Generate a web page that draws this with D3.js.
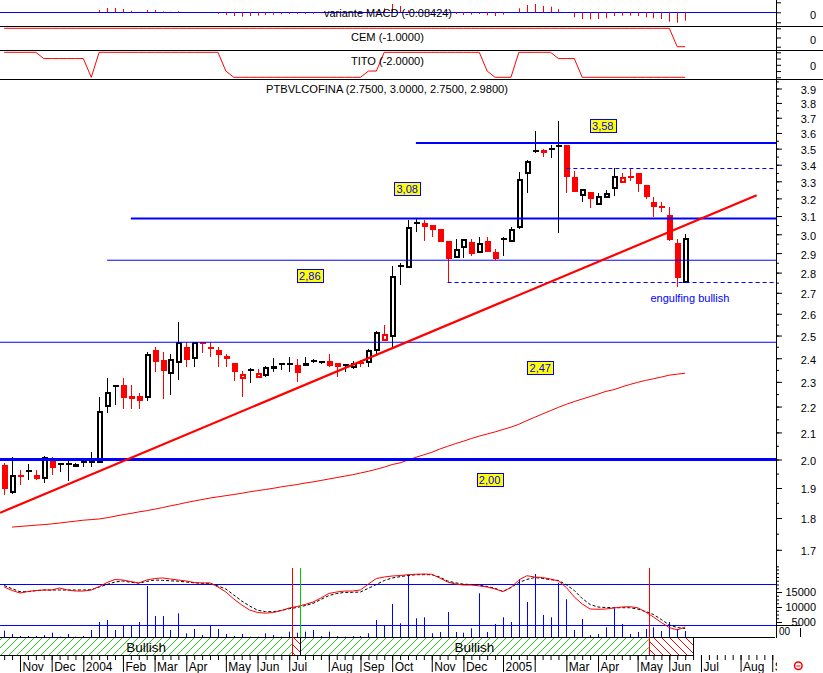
<!DOCTYPE html>
<html><head><meta charset="utf-8">
<script src="https://cdn.jsdelivr.net/npm/d3@7/dist/d3.min.js"></script>
<style>
html,body{margin:0;padding:0;background:#fff;overflow:hidden}
svg{display:block}
text{font-family:"Liberation Sans",Arial,sans-serif}
</style></head><body>
<svg id="chart" width="823" height="673"></svg>
<script>
// ---------------- DATA ----------------
const startDate = new Date(2003, 9, 24); // first weekly bar (Friday)
const opens = [1.979,1.882,1.946,1.955,1.945,1.931,1.995,1.983,1.984,1.973,
1.990,1.989,1.987,2.200,2.278,2.286,2.243,2.243,2.236,2.436,
2.392,2.332,2.378,2.450,2.395,2.473,2.446,2.436,2.408,2.378,
2.311,2.347,2.315,2.324,2.356,2.376,2.373,2.370,2.367,2.389,
2.379,2.386,2.378,2.370,2.358,2.385,2.378,2.433,2.476,2.492,
2.831,2.822,3.069,3.060,3.051,3.029,2.964,2.873,2.926,2.957,
2.899,2.963,2.906,2.971,2.957,3.036,3.346,3.477,3.491,3.494,
3.508,3.523,3.328,3.214,3.236,3.161,3.201,3.255,3.288,3.326,
3.348,3.278,3.180,3.151,3.106,2.955,2.750];
const highs = [1.989,2.008,1.963,1.985,1.963,2.011,2.008,1.986,1.999,1.988,
1.999,2.027,2.239,2.316,2.285,2.316,2.286,2.254,2.429,2.451,
2.429,2.419,2.562,2.473,2.473,2.473,2.473,2.448,2.419,2.378,
2.347,2.360,2.356,2.367,2.400,2.378,2.404,2.395,2.404,2.395,
2.390,2.419,2.378,2.371,2.388,2.392,2.441,2.521,2.549,2.835,
2.847,3.078,3.082,3.078,3.051,3.029,2.964,2.973,2.976,2.973,
2.984,2.984,2.920,2.984,3.042,3.358,3.429,3.615,3.497,3.523,
3.678,3.523,3.364,3.255,3.236,3.230,3.249,3.378,3.348,3.378,
3.348,3.278,3.208,3.177,3.151,2.973,3.000];
const lows = [1.877,1.880,1.911,1.926,1.926,1.917,1.946,1.956,1.925,1.973,
1.975,1.975,1.987,2.176,2.206,2.192,2.192,2.192,2.224,2.343,
2.232,2.247,2.308,2.364,2.364,2.422,2.407,2.364,2.364,2.304,
2.240,2.297,2.314,2.321,2.343,2.350,2.343,2.301,2.367,2.381,
2.377,2.361,2.319,2.343,2.353,2.364,2.364,2.410,2.476,2.451,
2.739,2.822,3.014,2.966,2.987,2.961,2.752,2.873,2.873,2.887,
2.899,2.907,2.865,2.887,2.957,3.029,3.233,3.471,3.450,3.440,
3.009,3.230,3.239,3.181,3.147,3.161,3.201,3.216,3.288,3.304,
3.239,3.195,3.093,3.121,2.966,2.727,2.750];
const closes = [1.896,1.946,1.940,1.962,1.931,2.008,1.971,1.985,1.985,1.985,
1.992,1.996,2.182,2.258,2.285,2.236,2.231,2.224,2.417,2.385,
2.347,2.395,2.473,2.392,2.473,2.462,2.444,2.413,2.395,2.341,
2.332,2.356,2.339,2.364,2.368,2.371,2.374,2.336,2.378,2.386,
2.387,2.365,2.364,2.371,2.381,2.378,2.435,2.515,2.506,2.781,
2.834,3.038,3.056,3.042,3.023,2.961,2.870,2.920,2.973,2.895,
2.955,2.907,2.870,2.975,3.027,3.316,3.423,3.491,3.475,3.496,
3.523,3.328,3.239,3.255,3.195,3.212,3.230,3.332,3.324,3.323,
3.282,3.206,3.153,3.148,2.970,2.775,2.980];
const volumes = [2100,1000,330,330,330,670,1430,150,1000,100,
330,2330,5000,5670,2330,3770,3770,5000,17000,7000,
7000,2330,7900,1230,2670,670,3770,2670,1000,330,
1000,100,100,1230,670,100,1770,1430,1770,2330,
330,1770,330,100,330,330,1230,5670,3770,11000,
4570,20330,6230,6570,1230,1670,8330,1670,1430,2900,
14570,1670,4330,6570,5000,19330,11670,21000,7330,6570,
18100,12570,2330,6000,670,1000,3230,9570,4330,1000,
1670,2670,3230,2000,5000,2670,2000];
const movingAvg = [null,1.771,1.773,1.775,1.777,1.779,1.781,1.784,1.787,1.790,
1.793,1.795,1.797,1.801,1.806,1.811,1.815,1.820,1.824,1.829,
1.834,1.840,1.845,1.851,1.856,1.861,1.866,1.870,1.874,1.878,
1.882,1.887,1.891,1.895,1.899,1.904,1.908,1.912,1.917,1.921,
1.926,1.931,1.936,1.941,1.946,1.952,1.958,1.965,1.973,1.982,
1.988,1.998,2.008,2.017,2.026,2.038,2.048,2.058,2.067,2.077,
2.086,2.094,2.102,2.111,2.120,2.131,2.145,2.158,2.171,2.184,
2.197,2.209,2.220,2.230,2.240,2.250,2.261,2.268,2.279,2.289,
2.298,2.306,2.313,2.320,2.328,2.332,2.336];
const oscFast = [76.1,71.0,67.3,69.5,71.0,71.7,71.7,74.6,71.7,70.2,
70.2,71.7,76.8,82.7,87.1,86.3,84.1,82.0,86.3,88.5,
89.3,87.8,86.3,84.9,82.7,82.0,82.0,76.1,68.8,58.5,
49.8,42.4,38.8,37.8,38.8,41.7,45.4,47.6,50.5,54.1,
60.0,66.6,68.8,70.2,70.2,71.7,80.5,88.5,90.7,92.2,
92.9,94.1,94.8,95.1,94.7,89.3,83.4,80.5,79.0,79.0,
77.6,76.1,73.2,69.5,75.4,86.3,92.6,90.7,90.0,87.8,
84.9,75.4,61.5,51.2,43.9,43.5,43.9,45.4,46.8,47.3,
45.8,39.5,32.2,24.1,16.8,13.2,17.6];
const oscSlow = [78.3,73.6,69.2,69.2,70.7,71.7,71.7,71.7,71.7,71.7,
71.7,72.1,76.1,79.8,83.4,84.9,83.0,81.7,84.3,86.3,
85.8,85.2,84.6,83.4,82.2,81.5,81.5,77.6,73.2,64.4,
55.6,48.3,42.1,40.0,40.0,41.7,44.3,46.2,48.9,52.1,
57.8,63.5,66.6,68.2,68.3,68.8,74.2,79.8,85.6,89.3,
91.2,92.9,94.1,94.1,94.1,90.7,84.9,82.2,80.2,79.8,
79.0,76.8,74.2,69.5,75.4,82.7,87.1,90.0,88.5,86.8,
85.6,79.3,71.0,59.3,50.5,46.8,46.1,45.8,45.8,45.8,
43.9,40.2,35.9,28.5,20.5,16.8,15.4];
const oscLevels = [80, 20];
const macdHist = [0,0,0,0,0,0,0,0,0,0,
0,0,0.023,0.043,0.043,0.033,0.016,0.005,0.023,0.023,
0.008,0.005,0.010,0.002,0.002,0.002,0,-0.017,-0.027,-0.037,
-0.044,-0.037,-0.034,-0.027,-0.024,-0.020,-0.017,-0.017,-0.017,-0.014,
-0.010,-0.008,-0.006,-0.005,-0.004,-0.003,0,0.010,0.040,0.083,
0.063,0.020,0.010,0.005,0,-0.005,-0.012,-0.017,-0.027,-0.024,
-0.017,-0.030,-0.037,-0.024,-0.004,0.040,0.073,0.083,0.063,0.056,
0.030,-0.005,-0.050,-0.067,-0.070,-0.067,-0.060,-0.037,-0.034,-0.034,
-0.037,-0.050,-0.060,-0.067,-0.094,-0.104,-0.084];
const cemValues = [1,1,1,1,1,1,1,1,1,1,
1,1,1,1,1,1,1,1,1,1,
1,1,1,1,1,1,1,1,1,1,
1,1,1,1,1,1,1,1,1,1,
1,1,1,1,1,1,1,1,1,1,
1,1,1,1,1,1,1,1,1,1,
1,1,1,1,1,1,1,1,1,1,
1,1,1,1,1,1,1,1,1,1,
1,1,1,1,1,-1,-1];
const titoValues = [2,2,2,2,2,1,1,1,1,1,
1,-2,2,2,2,2,2,2,2,2,
2,2,2,2,2,2,2,2,-1,-2,
-2,-2,-2,-2,-2,-2,-2,-2,-2,-2,
-2,-2,-2,-2,-2,-2,-1,-1,2,2,
2,2,2,2,2,2,2,2,2,2,
2,-1,-2,-2,-2,2,2,2,2,2,
1,1,1,-2,-2,-2,-2,-2,-2,-2,
-2,-2,-2,-2,-2,-2,-2];
const monthLabels = ["Nov","Dec","2004","Feb","Mar","Apr","May","Jun","Jul","Aug","Sep","Oct",
"Nov","Dec","2005","","Mar","Apr","May","Jun","Jul","Aug","Sep"];
const priceTicks = [1.7,1.8,1.9,2.0,2.1,2.2,2.3,2.4,2.5,2.6,2.7,2.8,2.9,3.0,3.1,3.2,3.3,3.4,3.5,3.6,3.7,3.8,3.9];
const volumeTicks = [5000,10000,15000];
const levelPrices = [3.535, 3.086, 2.863, 2.470, 2.000];
const levelStartWeeks = [52, 16, 13, null, null];
const dashedPrices = [3.378, 2.752];
const dashedStartWeeks = [71, 56];
const labelTexts = ["3,58","3,08","2,86","2,47","2,00"];
const labelWeeks = [75.6, 50.9, 38.6, 67.7, 61.3];
const labelPrices = [3.648, 3.256, 2.787, 2.361, 1.928];
const trendWeeks = [-0.525, 95.03];
const trendPrices = [1.817, 3.218];
const signalWeeks = [36, 37, 81];
const signalTypes = ["sell", "buy", "sell"];
const lastWeek = 86;
const noteText = "engulfing bullish", noteWeek = 86.6, notePrice = 2.675;
const titleText = "PTBVLCOFINA (2.7500, 3.0000, 2.7500, 2.9800)";

// ---------------- SETUP ----------------
const AX = 777;
const svg = d3.select("#chart");
const defs = svg.append("defs");
function clip(id, x0, y0, w, h){ defs.append("clipPath").attr("id", id).append("rect").attr("x",x0).attr("y",y0).attr("width",w).attr("height",h); }
clip("cMacd", 0, 0, AX, 26);
clip("cCem", 0, 27, AX, 23.5);
clip("cTito", 0, 51, AX, 28.5);
clip("cMain", 0, 80, AX, 487);
clip("cLow", 0, 565, AX, 72.5);
clip("cXAxis", 0, 640, AX, 33);

const pg = defs.append("pattern").attr("id","hatchG").attr("patternUnits","userSpaceOnUse").attr("width",8).attr("height",8);
pg.append("path").attr("d","M0,8 L8,0 M-2,2 L2,-2 M6,10 L10,6").attr("stroke","#22cc22").attr("stroke-width",1);
const pr = defs.append("pattern").attr("id","hatchR").attr("patternUnits","userSpaceOnUse").attr("width",8).attr("height",8);
pr.append("path").attr("d","M0,0 L8,8 M-2,6 L2,10 M6,-2 L10,2").attr("stroke","#ff0000").attr("stroke-width",1);

const x = d3.scaleLinear().domain([-0.525, 97.6]).range([0, AX]);
const yPrice = d3.scaleLog().domain([1.7, 3.9]).range([549.8, 88.5]);
const yMacd = d3.scaleLinear().domain([-0.1, 0.1]).range([22.3, 2.3]);
const yCem = d3.scaleLinear().domain([-1, 1]).range([46.7, 28.3]);
const yTito = d3.scaleLinear().domain([-2, 2]).range([77.3, 52.3]);
const yOsc = d3.scaleLinear().domain([0, 100]).range([639, 570.67]);
const yVol = d3.scaleLinear().domain([0, 5000]).range([637, 622]);
const px = i => Math.round(x(i));
const RED = "#ff0000", BLUE = "#0000ff";
const idx = d3.range(opens.length);

svg.append("rect").attr("width",823).attr("height",673).attr("fill","#fff");

// ---------------- TOP PANELS ----------------
const gM = svg.append("g").attr("clip-path","url(#cMacd)");
gM.append("line").attr("x1",0).attr("x2",AX).attr("y1",Math.round(yMacd(0))+0.5).attr("y2",Math.round(yMacd(0))+0.5).attr("stroke",BLUE);
gM.selectAll("line.h").data(idx.filter(i => macdHist[i] !== 0)).join("line").attr("class","h")
  .attr("x1", i => px(i)+0.5).attr("x2", i => px(i)+0.5)
  .attr("y1", yMacd(0)).attr("y2", i => yMacd(macdHist[i])).attr("stroke", RED);
svg.append("text").attr("x",388).attr("y",16.5).attr("text-anchor","middle").attr("font-size",11)
  .attr("textLength",128).attr("lengthAdjust","spacingAndGlyphs").text("variante MACD (-0.08424)");

const lineGen = (ys, arr) => d3.line().defined(i => arr[i] != null).x(i => x(i)).y(i => ys(arr[i]));
svg.append("g").attr("clip-path","url(#cCem)").append("path").datum(idx)
  .attr("d", lineGen(yCem, cemValues)).attr("fill","none").attr("stroke",RED);
svg.append("text").attr("x",387.4).attr("y",40.5).attr("text-anchor","middle").attr("font-size",11)
  .attr("textLength",73).attr("lengthAdjust","spacingAndGlyphs").text("CEM (-1.0000)");
svg.append("g").attr("clip-path","url(#cTito)").append("path").datum(idx)
  .attr("d", lineGen(yTito, titoValues)).attr("fill","none").attr("stroke",RED);
svg.append("text").attr("x",387.4).attr("y",65).attr("text-anchor","middle").attr("font-size",11)
  .attr("textLength",73).attr("lengthAdjust","spacingAndGlyphs").text("TITO (-2.0000)");

[26.5, 50.5, 79.5].forEach(yy => svg.append("line").attr("x1",0).attr("x2",823).attr("y1",yy).attr("y2",yy).attr("stroke","#000"));

// ---------------- MAIN PANEL ----------------
const gMain = svg.append("g").attr("clip-path","url(#cMain)");
svg.append("text").attr("x",387).attr("y",93).attr("text-anchor","middle").attr("font-size",11)
  .attr("textLength",242).attr("lengthAdjust","spacingAndGlyphs").text(titleText);

// moving average
gMain.append("path").datum(idx).attr("d", lineGen(yPrice, movingAvg)).attr("fill","none").attr("stroke",RED).attr("stroke-width",1);

// candles
const candles = idx.map(i => ({i, o:opens[i], h:highs[i], l:lows[i], c:closes[i], prev: i>0 ? closes[i-1] : null}));
const gC = gMain.append("g").attr("shape-rendering","crispEdges");
candles.forEach(d => {
  const red = d.prev == null ? d.c < d.o : d.c < d.prev;
  const col = red ? RED : "#000";
  const xc = px(d.i);
  gC.append("line").attr("x1",xc+0.5).attr("x2",xc+0.5).attr("y1",yPrice(d.h)).attr("y2",yPrice(d.l)).attr("stroke",col);
  const yTop = yPrice(Math.max(d.o,d.c)), yBot = yPrice(Math.min(d.o,d.c));
  const hgt = yBot - yTop;
  if (hgt < 2.5) {
    gC.append("rect").attr("x",xc-2.5).attr("y",(yTop+yBot)/2-1).attr("width",6).attr("height",2).attr("fill",col);
  } else if (d.c < d.o) {
    gC.append("rect").attr("x",xc-2.5).attr("y",yTop).attr("width",6).attr("height",hgt).attr("fill",col);
  } else {
    gC.append("rect").attr("x",xc-1.5).attr("y",yTop+1).attr("width",4).attr("height",hgt-2)
      .attr("fill","#fff").attr("stroke",col).attr("stroke-width",2);
  }
});

// horizontal levels
const levelW = [2, 2, 1, 1, 3];
levelPrices.forEach((p, k) => {
  const yy = yPrice(p);
  gMain.append("line").attr("x1", levelStartWeeks[k] == null ? 0 : x(levelStartWeeks[k])).attr("x2", AX)
    .attr("y1", yy).attr("y2", yy).attr("stroke", BLUE).attr("stroke-width", levelW[k]);
});
dashedPrices.forEach((p, k) => {
  const yy = Math.round(yPrice(p)) + 0.5;
  gMain.append("line").attr("x1", x(dashedStartWeeks[k])).attr("x2", AX)
    .attr("y1", yy).attr("y2", yy).attr("stroke", BLUE).attr("stroke-dasharray","4,3");
});
// trend line
gMain.append("line").attr("x1", x(trendWeeks[0])).attr("y1", yPrice(trendPrices[0]))
  .attr("x2", x(trendWeeks[1])).attr("y2", yPrice(trendPrices[1])).attr("stroke", RED).attr("stroke-width", 2.2);

// value labels
labelTexts.forEach((t, k) => {
  const cx = x(labelWeeks[k]), cy = yPrice(labelPrices[k]);
  gMain.append("rect").attr("x", Math.round(cx-13)+0.5).attr("y", Math.round(cy-6.5)+0.5).attr("width",26).attr("height",13)
    .attr("fill","#ffff00").attr("stroke",BLUE);
  gMain.append("text").attr("x", cx).attr("y", cy+4.5).attr("text-anchor","middle").attr("font-size",11).attr("fill",BLUE).text(t);
});
gMain.append("text").attr("x", x(noteWeek)).attr("y", yPrice(notePrice)+4).attr("text-anchor","middle")
  .attr("font-size",11).attr("fill",BLUE).text(noteText);

// ---------------- LOWER PANEL ----------------
const gLow = svg.append("g").attr("clip-path","url(#cLow)");
gLow.append("g").selectAll("line").data(idx).join("line")
  .attr("x1", i => px(i)+0.5).attr("x2", i => px(i)+0.5)
  .attr("y1", yVol(0)).attr("y2", i => yVol(volumes[i])).attr("stroke", BLUE);
oscLevels.forEach(v => {
  const yy = Math.round(yOsc(v)) + 0.5;
  gLow.append("line").attr("x1",0).attr("x2",AX).attr("y1",yy).attr("y2",yy).attr("stroke",BLUE);
});
gLow.append("path").datum(idx).attr("d", lineGen(yOsc, oscSlow)).attr("fill","none").attr("stroke","#000").attr("stroke-dasharray","3,2");
gLow.append("path").datum(idx).attr("d", lineGen(yOsc, oscFast)).attr("fill","none").attr("stroke",RED);

// signal band
const bandTop = 637.5, bandBot = 655;
const bounds = [x.domain()[0], ...signalWeeks.map(w => w + 0.4), lastWeek + 1];
const segs = d3.range(bounds.length - 1).map(k => ({x0: x(bounds[k]), x1: x(bounds[k+1]), bull: k === 0 ? true : signalTypes[k-1] === "buy"}));
segs.forEach(s => {
  svg.append("rect").attr("x", s.x0).attr("y", bandTop).attr("width", s.x1 - s.x0).attr("height", bandBot - bandTop)
    .attr("fill", s.bull ? "url(#hatchG)" : "url(#hatchR)");
  if (s.bull) svg.append("text").attr("x", (s.x0 + s.x1)/2).attr("y", 651.5).attr("text-anchor","middle").attr("font-size",13.5).text("Bullish");
});
svg.append("line").attr("x1",0).attr("x2",AX - 2).attr("y1",bandTop).attr("y2",bandTop).attr("stroke","#000");
svg.append("line").attr("x1",0).attr("x2",x(lastWeek + 1)).attr("y1",bandBot+0.5).attr("y2",bandBot+0.5).attr("stroke","#000");
svg.append("line").attr("x1",Math.round(x(lastWeek+1))+0.5).attr("x2",Math.round(x(lastWeek+1))+0.5).attr("y1",bandTop).attr("y2",bandBot).attr("stroke","#000");
signalWeeks.forEach((w, k) => {
  const xx = Math.round(x(w + 0.4)) + 0.5;
  if (signalTypes[k] === "sell") {
    svg.append("line").attr("x1",xx).attr("x2",xx).attr("y1",568).attr("y2",bandBot).attr("stroke",RED);
  } else {
    svg.append("line").attr("x1",xx).attr("x2",xx).attr("y1",568).attr("y2",bandTop).attr("stroke","#00cc00");
    svg.append("line").attr("x1",xx).attr("x2",xx).attr("y1",bandTop).attr("y2",bandBot).attr("stroke","#000");
  }
});

// ---------------- X AXIS ----------------
const weekIdx = d3.range(0, 98);
const weekDates = weekIdx.map(i => d3.timeDay.offset(startDate, 7*i));
const monthIdx = weekIdx.filter(i => i > 0 && weekDates[i].getMonth() !== weekDates[i-1].getMonth());
const gX = svg.append("g").attr("clip-path","url(#cXAxis)");
const gW = gX.append("g").attr("transform",`translate(0,${bandBot})`)
  .call(d3.axisBottom(x).tickValues(weekIdx).tickSize(5).tickFormat(""));
gW.select(".domain").remove();
const gMo = gX.append("g").attr("transform",`translate(0,${bandBot})`)
  .call(d3.axisBottom(x).tickValues(monthIdx).tickSize(17).tickFormat((d, k) => monthLabels[k]));
gMo.select(".domain").remove();
gMo.selectAll("text").attr("x",2).attr("y",16).attr("dy",null).attr("text-anchor","start")
  .attr("font-size",12).attr("font-family","Liberation Sans, Arial, sans-serif").attr("fill","#000");
gX.selectAll("line").attr("stroke","#000");

// ---------------- RIGHT AXES ----------------
svg.append("line").attr("x1",AX-0.5).attr("x2",AX-0.5).attr("y1",0).attr("y2",bandTop+0.5).attr("stroke","#000");
function styleAxis(g, dy){
  g.select(".domain").remove();
  g.selectAll("line").attr("stroke","#000");
  g.selectAll("text").attr("x",40).attr("text-anchor","end").attr("dy",dy)
    .attr("font-size",11).attr("font-family","Liberation Sans, Arial, sans-serif").attr("fill","#000");
}
const axG = svg.append("g").attr("transform",`translate(${AX-1},0)`);
styleAxis(axG.append("g").call(d3.axisRight(yPrice).tickValues(d3.range(1.65, 3.97, 0.05)).tickSize(3).tickFormat("")), "0.4em");
styleAxis(axG.append("g").call(d3.axisRight(yPrice).tickValues(priceTicks).tickSize(6).tickFormat(d3.format(".1f"))), "0.45em");
styleAxis(axG.append("g").call(d3.axisRight(yVol).tickValues(d3.range(1250, 23000, 1250)).tickSize(3).tickFormat("")), "0.32em");
styleAxis(axG.append("g").call(d3.axisRight(yVol).tickValues(volumeTicks).tickSize(6).tickFormat(d3.format("d"))), "0.32em");
styleAxis(axG.append("g").call(d3.axisRight(yMacd).tickValues([-0.1,0,0.1]).tickSize(5).tickFormat(d => d === 0 ? "0" : "")), "0.55em");
styleAxis(axG.append("g").call(d3.axisRight(yCem).tickValues([-1,0,1]).tickSize(5).tickFormat(d => d === 0 ? "0" : "")), "0.5em");
styleAxis(axG.append("g").call(d3.axisRight(yTito).tickValues([-2,-1,0,1,2]).tickSize(5).tickFormat(d => d === 0 ? "0" : "")), "0.45em");

// small legend box artefact and status icon
svg.append("line").attr("x1",AX).attr("x2",800).attr("y1",625.5).attr("y2",625.5).attr("stroke","#000");
svg.append("line").attr("x1",800.5).attr("x2",800.5).attr("y1",628).attr("y2",637).attr("stroke","#000");
svg.append("rect").attr("x",AX).attr("y",626).attr("width",23).attr("height",11).attr("fill","#fff");
svg.append("text").attr("x",779).attr("y",635).attr("font-size",10).text("00");
svg.append("circle").attr("cx",798.3).attr("cy",665.8).attr("r",3.8).attr("fill","none").attr("stroke",RED).attr("stroke-width",1.5);
svg.append("line").attr("x1",796.3).attr("x2",800.3).attr("y1",666).attr("y2",666).attr("stroke",RED);
</script></body></html>
